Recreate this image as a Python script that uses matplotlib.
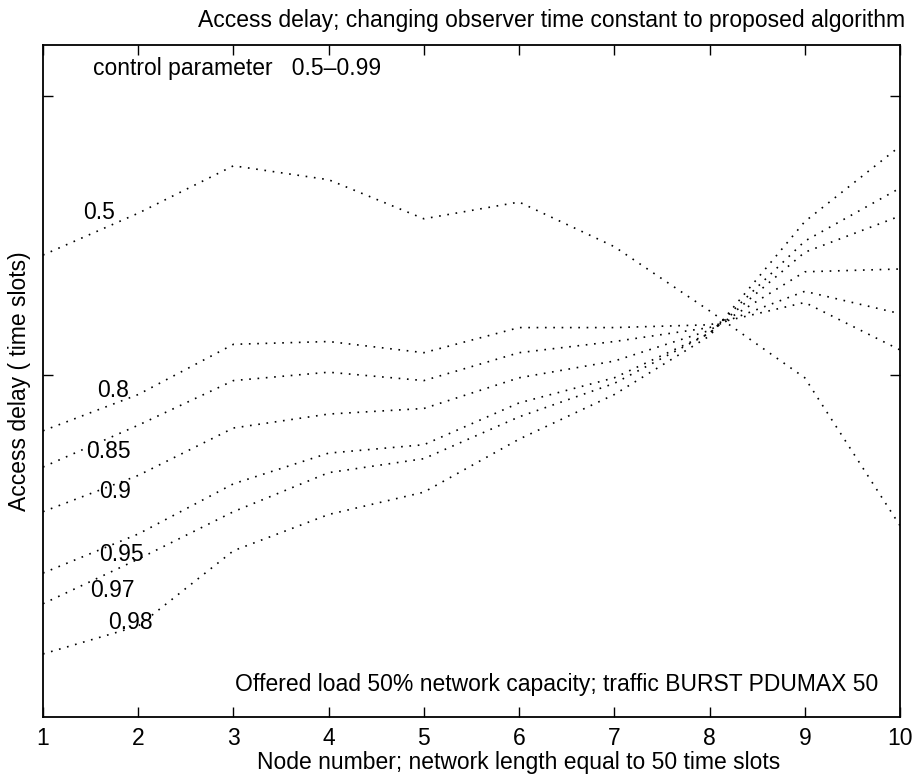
import matplotlib
matplotlib.use("Agg")
import matplotlib.pyplot as plt

# Access delay per node, one curve per control parameter value
nodes = [1, 2, 3, 4, 5, 6, 7, 8, 9, 10]
delay_050 = [24.3, 25.8, 27.5, 27.0, 25.6, 26.2, 24.6, 22.3, 19.9, 14.6]
delay_080 = [18.0, 19.3, 21.1, 21.2, 20.8, 21.7, 21.7, 21.8, 22.6, 20.9]
delay_085 = [16.7, 18.2, 19.8, 20.1, 19.8, 20.8, 21.2, 21.7, 23.0, 22.2]
delay_090 = [15.1, 16.4, 18.1, 18.6, 18.8, 19.9, 20.5, 21.6, 23.7, 23.8]
delay_095 = [12.9, 14.3, 16.1, 17.2, 17.5, 19.0, 19.9, 21.5, 24.4, 25.7]
delay_097 = [11.8, 13.4, 15.1, 16.5, 17.0, 18.5, 19.7, 21.5, 24.8, 26.7]
delay_098 = [10.0, 11.0, 13.7, 15.0, 15.8, 17.7, 19.3, 21.4, 25.5, 28.2]

curve_labels = ["0.5", "0.8", "0.85", "0.9", "0.95", "0.97", "0.98"]
curves = [delay_050, delay_080, delay_085, delay_090, delay_095, delay_097, delay_098]
# where each label sits next to its curve (data coords)
label_x = [1.42, 1.57, 1.45, 1.59, 1.59, 1.49, 1.68]
label_y = [25.84, 19.46, 17.24, 15.81, 13.58, 12.26, 11.11]

FS = 16.5

plt.rcdefaults()
plt.rcParams['font.family'] = ['Liberation Sans', 'DejaVu Sans']
fig = plt.figure(figsize=(9.16, 7.77), dpi=100)
ax = fig.add_axes([43 / 916, 60 / 777, 857 / 916, 672 / 777])

# Dotted black lines
for values in curves:
    ax.plot(nodes, values, color='black', linestyle=(0, (1, 4)), linewidth=1.2)

# Curve labels
for lab, lx, ly in zip(curve_labels, label_x, label_y):
    ax.text(lx, ly, lab, fontsize=FS, ha='left', va='center')

ax.text(1.52, 31.0, "control parameter   0.5\u20130.99", fontsize=FS, ha='left', va='center')
ax.text(9.77, 8.9, "Offered load 50% network capacity; traffic BURST PDUMAX 50",
        fontsize=FS, ha='right', va='center')

# Axes
ax.set_xlim(1, 10)
ax.set_ylim(7.74, 31.83)
ax.set_xticks(nodes)
ax.set_xticklabels([str(n) for n in nodes])
ax.set_yticks([20, 30])
ax.set_yticklabels([])
ax.tick_params(direction='in', top=True, right=True, length=7, width=1.0,
               labelsize=FS, pad=7)
for spine in ax.spines.values():
    spine.set_linewidth(1.3)

# Labels and title
fig.text(519 / 916, 1 - 763 / 777, "Node number; network length equal to 50 time slots",
         fontsize=FS, ha='center', va='center')
fig.text(20 / 916, 1 - 381 / 777, "Access delay ( time slots)", fontsize=FS,
         rotation=90, ha='center', va='center')
fig.text(905 / 916, 1 - 20 / 777,
         "Access delay; changing observer time constant to proposed algorithm",
         fontsize=FS, ha='right', va='center')

fig.savefig("out.png", dpi=100)
